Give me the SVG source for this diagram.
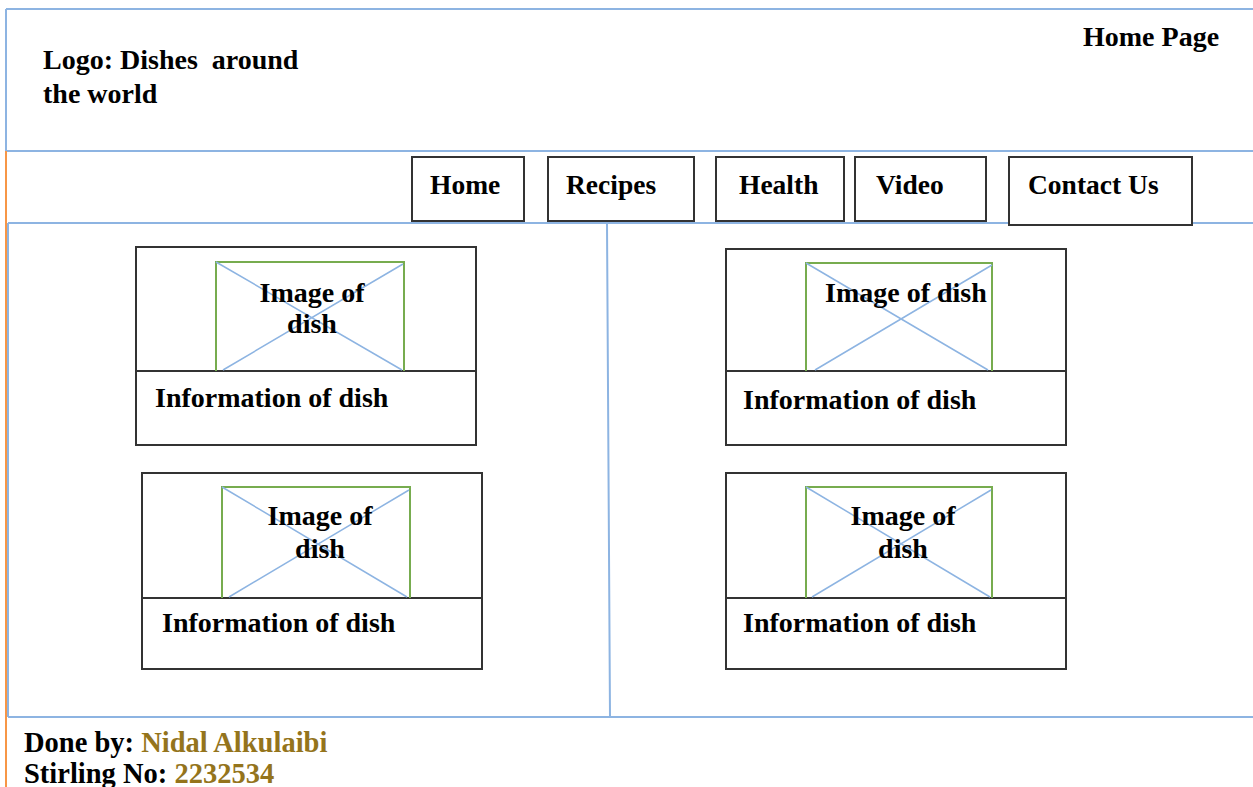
<svg xmlns="http://www.w3.org/2000/svg" width="1253" height="787" viewBox="0 0 1253 787">
<style>
text{font-family:"Liberation Serif","Times New Roman",serif;font-weight:bold;font-size:28px;fill:#000}
.nav{font-size:27.5px}
.foot{font-size:28.5px}
.frame{stroke:#8DB4E2;stroke-width:2;fill:none}
.orange{stroke:#F79646;stroke-width:2;fill:none}
.box{stroke:#333;stroke-width:2;fill:#fff}
.img{stroke:#77AC4F;stroke-width:2;fill:none}
.cross{stroke:#8DB4E2;stroke-width:1.5;fill:none}
.gold{fill:#94741C}
.mid{text-anchor:middle}
</style>
<rect width="1253" height="787" fill="#fff"/>
<g id="layout-lines">
  <path class="frame" d="M6,9 H1253 M6,9 V151 M6,151 H1253 M8,223 H1253 M8,223 V717 M8,717 H1253 M607,223 L610,717"/>
  <path class="orange" d="M6,151 V787"/>
</g>
<g id="header">
  <text x="43" y="69" xml:space="preserve">Logo: Dishes  around</text>
  <text x="43" y="103">the world</text>
  <text x="1083" y="46">Home Page</text>
</g>
<g id="nav-home"><rect class="box" x="412" y="157" width="112" height="64"/><text class="nav" x="430" y="194">Home</text></g>
<g id="nav-recipes"><rect class="box" x="548" y="157" width="146" height="64"/><text class="nav" x="566" y="194">Recipes</text></g>
<g id="nav-health"><rect class="box" x="716" y="157" width="128" height="64"/><text class="nav" x="739" y="194">Health</text></g>
<g id="nav-video"><rect class="box" x="855" y="157" width="131" height="64"/><text class="nav" x="876" y="194">Video</text></g>
<g id="nav-contact"><rect class="box" x="1009" y="157" width="183" height="68"/><text class="nav" x="1028" y="194">Contact Us</text></g>
<g id="card-1">
  <rect class="box" x="136" y="247" width="340" height="198"/>
  <line x1="136" y1="371" x2="476" y2="371" stroke="#333" stroke-width="2"/>
  <path class="img" d="M216,371 V262 H404 V371"/>
  <path class="cross" d="M216,262 L402,370 M403,264 L223,370"/>
  <text class="mid" x="312" y="302">Image of</text>
  <text class="mid" x="312" y="333">dish</text>
  <text x="155" y="407">Information of dish</text>
</g>
<g id="card-2">
  <rect class="box" x="726" y="249" width="340" height="196"/>
  <line x1="726" y1="371" x2="1066" y2="371" stroke="#333" stroke-width="2"/>
  <path class="img" d="M806,371 V263 H992 V371"/>
  <path class="cross" d="M806,263 L988,370 M992,265 L815,370"/>
  <text x="825" y="302">Image of dish</text>
  <text x="743" y="409">Information of dish</text>
</g>
<g id="card-3">
  <rect class="box" x="142" y="473" width="340" height="196"/>
  <line x1="142" y1="598" x2="482" y2="598" stroke="#333" stroke-width="2"/>
  <path class="img" d="M222,598 V487 H410 V598"/>
  <path class="cross" d="M222,487 L407,597 M409,490 L229,597"/>
  <text class="mid" x="320" y="525">Image of</text>
  <text class="mid" x="320" y="558">dish</text>
  <text x="162" y="632">Information of dish</text>
</g>
<g id="card-4">
  <rect class="box" x="726" y="473" width="340" height="196"/>
  <line x1="726" y1="598" x2="1066" y2="598" stroke="#333" stroke-width="2"/>
  <path class="img" d="M806,598 V487 H992 V598"/>
  <path class="cross" d="M806,487 L990,597 M991,490 L812,597"/>
  <text class="mid" x="903" y="525">Image of</text>
  <text class="mid" x="903" y="558">dish</text>
  <text x="743" y="632">Information of dish</text>
</g>
<g id="footer">
  <text class="foot" x="24" y="752">Done by: <tspan class="gold">Nidal Alkulaibi</tspan></text>
  <text class="foot" x="24" y="783">Stirling No: <tspan class="gold">2232534</tspan></text>
</g>
</svg>
